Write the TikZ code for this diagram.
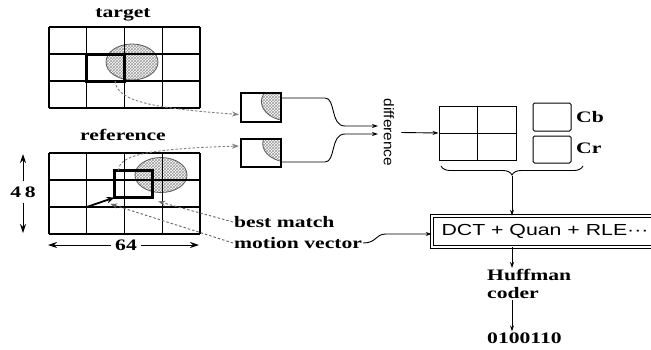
\documentclass[tikz,border=0pt]{standalone}
\usepackage{fontspec}
\usepackage{graphicx}
\setmainfont{Liberation Serif}
\setsansfont{Liberation Sans}
\usetikzlibrary{arrows.meta,patterns,decorations.pathreplacing,calc}
\newcommand\wsf[1]{\scalebox{1.35}[1]{#1}}
\begin{document}
\begin{tikzpicture}[x=1pt,y=-1pt,
  lab/.style={font=\fontsize{16}{18}\selectfont\bfseries, inner sep=1pt},
  gridl/.style={line width=1.2pt},
  blkbox/.style={draw, line width=3pt, inner sep=0pt, outer sep=0pt, minimum width=37.75, minimum height=27},
  sbox/.style={draw, line width=2.6pt, inner sep=0pt, outer sep=0pt, minimum width=40, minimum height=29},
  hatch/.style={pattern=crosshatch, pattern color=black!40},
  ringl/.style={line width=0.8pt, draw=black!65},
  dcurve/.style={line width=0.9pt, draw=black!50, dash pattern=on 2.5pt off 1.8pt, -{Stealth[length=7pt,width=5pt]}, color=black!50},
  leader/.style={line width=0.9pt, dash pattern=on 2.5pt off 2pt, draw=black!60, -{Stealth[length=7pt,width=5pt]}},
  conn/.style={line width=0.9pt, -{Stealth[length=6pt,width=4pt]}},
  dimarr/.style={line width=1pt, -{Stealth[length=9pt,width=6pt]}}
]
\useasboundingbox[fill=white] (0,0) rectangle (651,349);

% ---------- target frame ----------
\node[lab] (tlab) at (123,15) {\wsf{target}};
\fill[hatch] (132,62) ellipse [x radius=26, y radius=18];
\draw[ringl] (132,62) ellipse [x radius=26, y radius=18];
\foreach \x in {49,86.75,124.5,162.25,200} \draw[gridl] (\x,27) -- (\x,108);
\foreach \y in {27,54,81,108} \draw[gridl] (49,\y) -- (200,\y);
\node[blkbox] (tb) at (105.625,67.5) {};

% ---------- reference frame ----------
\node[lab] (rlab) at (123,135) {\wsf{reference}};
\fill[hatch] (161,175) ellipse [x radius=26, y radius=17.5];
\draw[ringl] (161,175) ellipse [x radius=26, y radius=17.5];
\foreach \x in {49,86.75,124.5,162.25,200} \draw[gridl] (\x,153) -- (\x,234);
\foreach \y in {153,180,207,234} \draw[gridl] (49,\y) -- (200,\y);
\node[blkbox] (rb) at (133.375,184) {};

% motion vector
\coordinate (mv0) at (86.75,207);
\draw[line width=1.8pt, -{Stealth[length=8pt,width=6.5pt]}] (mv0) -- coordinate[pos=0.85] (mvm) (rb.south west);

% dimensions
\node[lab] (n48) at (23,192) {\wsf{4\,8}};
\coordinate (t48) at (23,154);
\coordinate (b48) at (23,233);
\draw[dimarr] ([yshift=4pt]n48.north) -- (t48);
\draw[dimarr] ([yshift=-4pt]n48.south) -- (b48);
\node[lab] (n64) at (126,245) {\wsf{64}};
\coordinate (l64) at (48,245);
\coordinate (r64) at (199,245);
\draw[dimarr] ([xshift=-3pt]n64.west) -- (l64);
\draw[dimarr] ([xshift=3pt]n64.east) -- (r64);

% labels best match / motion vector
\node[lab, anchor=west] (bm) at (233,222) {\wsf{best match}};
\node[lab, anchor=west] (mv) at (233,243) {\wsf{motion vector}};
\draw[leader] (bm.west) -- ([xshift=6pt,yshift=-4pt]rb.south east);
\draw[leader] (mv.west) -- ([yshift=-5pt]mvm);

% ---------- extracted blocks ----------
\node[sbox] (b1) at (261,107.5) {};
\node[sbox, minimum height=28] (b2) at (261,153) {};
\begin{scope}
  \clip ([xshift=1.3pt,yshift=-1.3pt]b1.north west) rectangle ([xshift=-1.3pt,yshift=1.3pt]b1.south east);
  \fill[hatch] (289,101.6) ellipse [x radius=27.6, y radius=19.3];
  \draw[ringl] (289,101.6) ellipse [x radius=27.6, y radius=19.3];
\end{scope}
\begin{scope}
  \clip ([xshift=1.3pt,yshift=-1.3pt]b2.north west) rectangle ([xshift=-1.3pt,yshift=1.3pt]b2.south east);
  \fill[hatch] (290.3,143.7) ellipse [x radius=27.6, y radius=18.7];
  \draw[ringl] (290.3,143.7) ellipse [x radius=27.6, y radius=18.7];
\end{scope}

\draw[dcurve] ([xshift=9.4pt]tb.south) .. controls +(2,20) and (150,108) .. ([xshift=-2pt,yshift=-7pt]b1.west);
\draw[dcurve] ([xshift=-15pt]rb.north) .. controls +(1,-14) and (140,149) .. ([xshift=-2pt,yshift=7pt]b2.west);

% ---------- difference ----------
\node[font=\fontsize{14}{16}\selectfont\sffamily, rotate=-90, inner sep=1pt] (diff) at (389,132.5) {\scalebox{1.1}[1]{difference}};
\coordinate (d1) at (378,126);
\coordinate (d2) at (378,134);
\draw[conn] ([yshift=9.5pt]b1.east) -- (325,98) .. controls (336,98) and (330,126) .. (345,126) -- (d1);
\draw[conn] ([yshift=-9pt]b2.east) -- (325,162) .. controls (336,162) and (330,134) .. (345,134) -- (d2);

% ---------- YCbCr blocks ----------
\node[draw, line width=1pt, minimum width=77, minimum height=54, inner sep=0pt] (Y) at (477.5,133) {};
\draw[line width=1pt] (Y.north) -- (Y.south);
\draw[line width=1pt] (Y.west) -- (Y.east);
\draw[conn] ([xshift=6pt]diff.north) -- (Y.west);
\node[draw, line width=1pt, rounded corners=1.5pt, minimum width=38, minimum height=28, inner sep=0pt] (cb) at (552,117) {};
\node[draw, line width=1pt, rounded corners=1.5pt, minimum width=38, minimum height=27, inner sep=0pt] (cr) at (552,149.5) {};
\node[lab, anchor=west] (cbl) at (575,117) {\wsf{Cb}};
\node[lab, anchor=west] (crl) at (575,148) {\wsf{Cr}};
\draw[decorate, decoration={brace, amplitude=9pt}, line width=0.9pt] (583,166) -- (441,166);
\coordinate (bt) at (512,176);

% ---------- coding chain ----------
\node[draw, double, double distance=2.2pt, line width=0.8pt, minimum width=226, minimum height=31, inner sep=0pt,
      font=\fontsize{16}{18}\selectfont\sffamily] (dct) at (545,231.5) {\scalebox{1.33}[1]{DCT + Quan + RLE···}};
\draw[conn] (bt) -- (dct.north -| bt);
\draw[conn] (mv.east) .. controls (377,243) and (375,234) .. (386,234) -- ([yshift=-2.5pt]dct.west);
\node[lab, align=left, anchor=north west] (hc) at (486,268) {\wsf{Huffman}\\\wsf{coder}};
\draw[conn] (dct.south -| bt) -- (hc.north -| bt);
\node[lab, anchor=west] (out) at (486,338) {\wsf{0100110}};
\draw[conn] (hc.south -| bt) -- (out.north -| bt);
\end{tikzpicture}
\end{document}
